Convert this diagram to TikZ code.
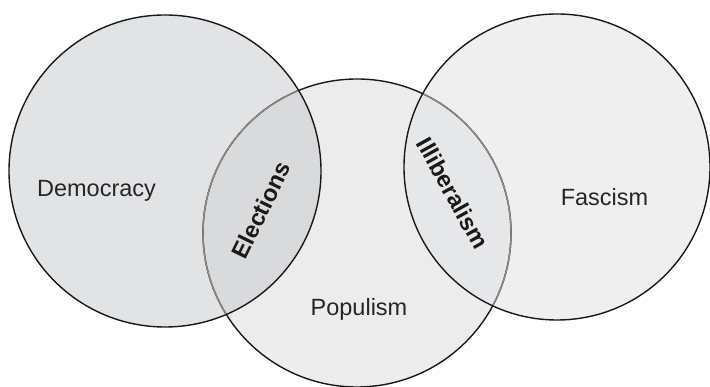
\documentclass[tikz,border=0pt]{standalone}
\usepackage{fontspec}
\setmainfont{Liberation Sans}
\usepackage{xcolor}
\definecolor{demfill}{HTML}{E2E3E5}
\definecolor{popfill}{HTML}{ECECEC}
\definecolor{fasfill}{HTML}{EFEFEF}
\definecolor{elecfill}{HTML}{D9DADC}
\definecolor{illfill}{HTML}{E6E7E9}
\definecolor{rimgray}{HTML}{8A8A8A}

\begin{document}
\begin{tikzpicture}[x=1pt,y=1pt,
  rim/.style={line width=1.4pt,draw=black!90},
  rimlight/.style={line width=1.4pt,draw=rimgray},
  lbl/.style={font=\fontsize{23.5}{28}\selectfont,anchor=base,inner sep=0pt,text=black!85},
  lap/.style={font=\fontsize{23.5}{28}\selectfont\bfseries,inner sep=0pt,text=black!90}]
\useasboundingbox (0,0) rectangle (710,387);
\coordinate (dem) at (165,216);
\coordinate (pop) at (357,154);
\coordinate (fas) at (557,220);
% set fills
\fill[popfill] (pop) circle (154);
\fill[demfill] (dem) circle (156);
\fill[fasfill] (fas) circle (153);
\begin{scope}
  \clip (dem) circle (156);
  \fill[elecfill] (pop) circle (154);
\end{scope}
\begin{scope}
  \clip (fas) circle (153);
  \fill[illfill] (pop) circle (154);
\end{scope}
% outlines
\draw[rim] (pop) circle (154);
\begin{scope}
  \clip (dem) circle (156);
  \draw[rimlight] (pop) circle (154);
\end{scope}
\begin{scope}
  \clip (fas) circle (153);
  \draw[rimlight] (pop) circle (154);
\end{scope}
\draw[rim] (dem) circle (156);
\draw[rim] (fas) circle (153);
% labels
\node[lbl] (demlbl) at (96.5,190) {Democracy};
\node[lbl] (poplbl) at (359,71) {Populism};
\node[lbl] (faslbl) at (604.5,181) {Fascism};
\node[lap,rotate=64] (elec) at (261,177) {Elections};
\node[lap,rotate=-61] (illib) at (453,194) {Illiberalism};
\end{tikzpicture}
\end{document}
